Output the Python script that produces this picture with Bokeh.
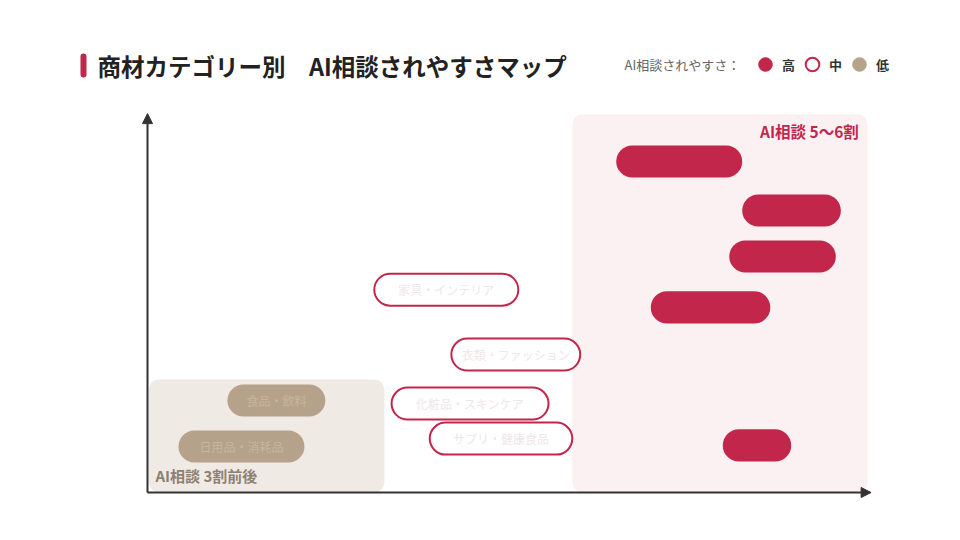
from bokeh.plotting import figure
from bokeh.models import (Range1d, Label, Arrow, NormalHead, Legend, LegendItem,
                          BoxAnnotation, ColumnDataSource)
from bokeh.core.properties import value
from bokeh.embed import file_html
from bokeh.resources import INLINE

# ---- data (x: relative AI-consult tendency 0-100, y: position 0-100) ----
high_start = [65.1, 82.6, 80.8, 69.9, 79.9]
high_end   = [82.6, 96.3, 95.6, 86.5, 89.4]
high_y     = [87.8, 74.8, 62.6, 49.1, 12.5]

mid_labels = ["家具・インテリア", "衣類・ファッション", "化粧品・スキンケア", "サプリ・健康食品"]
mid_start  = [31.5, 42.2, 33.9, 39.2]
mid_end    = [51.5, 60.1, 55.7, 59.0]
mid_y      = [53.8, 36.6, 23.6, 14.3]

low_labels = ["食品・飲料", "日用品・消耗品"]
low_start  = [11.1, 4.3]
low_end    = [24.7, 21.8]
low_y      = [24.4, 12.2]

zone_low  = dict(left=[0.2], right=[32.9], bottom=[0.0], top=[30.0])
zone_high = dict(left=[59.0], right=[100.0], bottom=[0.0], top=[100.3])

RED = "#c2274b"
BROWN = "#b6a28a"
FONT = "Noto Sans CJK JP"
NAN = float("nan")

W, H = 944, 524
ox, oy = 147, 492          # axis origin in canvas px
kx, ky = 7.2, 3.77         # px per data unit

p = figure(width=W, height=H, output_backend="svg", toolbar_location=None,
           x_range=Range1d(-ox / kx, (W - ox) / kx),
           y_range=Range1d(-(H - oy) / ky, oy / ky),
           min_border=0, background_fill_color="white", border_fill_color="white")
p.axis.visible = False
p.grid.visible = False
p.outline_line_color = None

# zones
p.quad(source=ColumnDataSource(zone_low), left="left", right="right", bottom="bottom", top="top",
       fill_color="#efebe4", line_color=None, border_radius=10)
p.quad(source=ColumnDataSource(zone_high), left="left", right="right", bottom="bottom", top="top",
       fill_color="#fbf1f2", line_color=None, border_radius=10)

bh = 8.5
# bars
p.hbar(y=high_y, left=high_start, right=high_end, height=bh, fill_color=RED,
       line_color=None, border_radius=16)
p.hbar(y=mid_y, left=mid_start, right=mid_end, height=bh, fill_color="white",
       line_color=RED, line_width=2, border_radius=16)
p.hbar(y=low_y, left=low_start, right=low_end, height=bh, fill_color=BROWN,
       line_color=None, border_radius=16)

# faint bar labels
mid_cx = [(a + b) / 2 for a, b in zip(mid_start, mid_end)]
low_cx = [(a + b) / 2 for a, b in zip(low_start, low_end)]
p.text(x=mid_cx, y=mid_y, text=mid_labels, text_align="center", text_baseline="middle",
       text_font=value(FONT), text_font_size="12px", text_color="#efe6e8")
p.text(x=low_cx, y=low_y, text=low_labels, text_align="center", text_baseline="middle",
       text_font=value(FONT), text_font_size="12px", text_color="#c6b59f")

# axes arrows
p.add_layout(Arrow(x_start=0, y_start=0, x_end=100.5, y_end=0, line_color="#333333",
                   line_width=2, end=NormalHead(size=10, fill_color="#333333",
                                                line_color="#333333")))
p.add_layout(Arrow(x_start=0, y_start=0, x_end=0, y_end=100.5, line_color="#333333",
                   line_width=2, end=NormalHead(size=10, fill_color="#333333",
                                                line_color="#333333")))

# zone labels
p.add_layout(Label(x=1.1, y=4.5, text="AI相談 3割前後", text_font=FONT, text_font_size="15px",
                   text_font_style="bold", text_color="#8d8070", text_baseline="middle"))
p.add_layout(Label(x=98.8, y=95.8, text="AI相談 5〜6割", text_font=FONT, text_font_size="15.5px",
                   text_font_style="bold", text_color=RED, text_baseline="middle",
                   text_align="right"))

# title
p.add_layout(BoxAnnotation(left=80, right=86, top=H - 53, bottom=H - 77,
                           left_units="screen", right_units="screen",
                           top_units="screen", bottom_units="screen",
                           fill_color=RED, fill_alpha=1, line_color=None, border_radius=3))
p.add_layout(Label(x=97, y=H - 65, x_units="screen", y_units="screen",
                   text="商材カテゴリー別　AI相談されやすさマップ", text_font=FONT,
                   text_font_size="23.5px", text_font_style="bold", text_color="#222222",
                   text_baseline="middle"))

# legend
p.add_layout(Label(x=624, y=H - 64, x_units="screen", y_units="screen",
                   text="AI相談されやすさ：", text_font=FONT, text_font_size="13px",
                   text_color="#666666", text_baseline="middle"))
r1 = p.scatter(x=[NAN], y=[NAN], size=13, fill_color=RED, line_color=RED)
r2 = p.scatter(x=[NAN], y=[NAN], size=13, fill_color="white", line_color=RED, line_width=2)
r3 = p.scatter(x=[NAN], y=[NAN], size=13, fill_color=BROWN, line_color=BROWN)
leg = Legend(items=[LegendItem(label="高", renderers=[r1]),
                    LegendItem(label="中", renderers=[r2]),
                    LegendItem(label="低", renderers=[r3])],
             orientation="horizontal", location=(748, H - 81),
             glyph_width=34, glyph_height=34, label_standoff=0, spacing=0,
             label_width=13, padding=0, margin=0, border_line_color=None,
             background_fill_alpha=0,
             label_text_font=FONT, label_text_font_size="13px",
             label_text_font_style="bold", label_text_color="#333333",
             label_height=34)
p.add_layout(leg, "center")

open("out.html", "w").write(file_html(p, INLINE))
